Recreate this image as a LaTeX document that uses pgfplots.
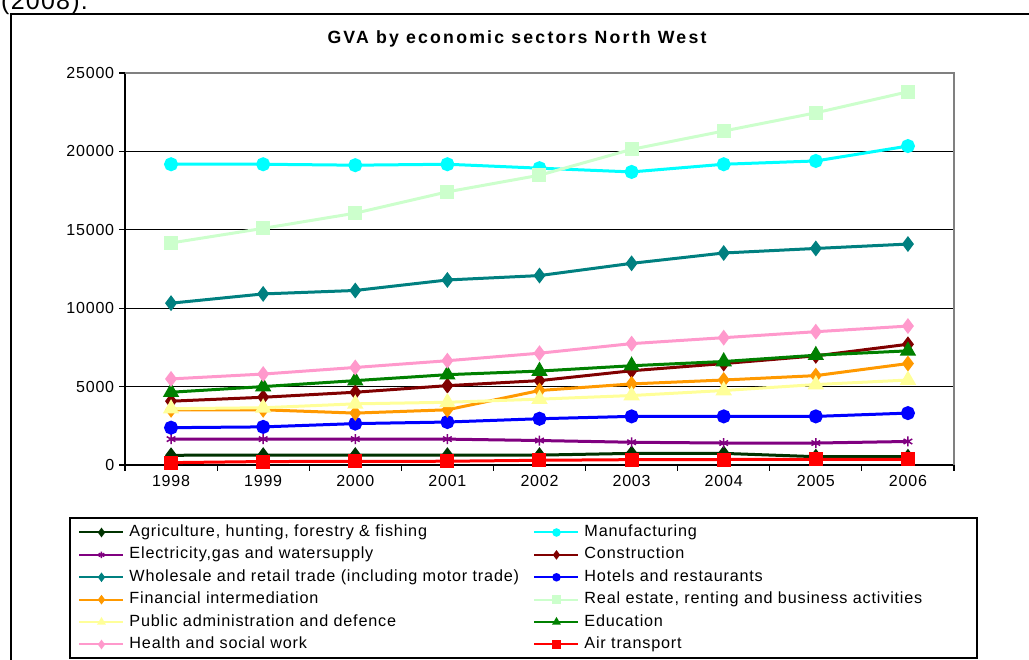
\documentclass[border=0pt]{standalone}
\usepackage{fontspec}
\setmainfont{Liberation Sans}[LetterSpace=5]
\newfontfamily\titlefont{Liberation Sans}[LetterSpace=12.5]
\usepackage{pgfplots}
\pgfplotsset{compat=1.18}

\definecolor{cAgr}{RGB}{0,51,0}
\definecolor{cMan}{RGB}{0,255,255}
\definecolor{cEle}{RGB}{128,0,128}
\definecolor{cCon}{RGB}{128,0,0}
\definecolor{cWho}{RGB}{0,128,128}
\definecolor{cHot}{RGB}{0,0,255}
\definecolor{cFin}{RGB}{255,153,0}
\definecolor{cRea}{RGB}{204,255,204}
\definecolor{cPub}{RGB}{255,255,153}
\definecolor{cEdu}{RGB}{0,128,0}
\definecolor{cHea}{RGB}{255,153,204}
\definecolor{cAir}{RGB}{255,0,0}

\newcommand{\colA}[1]{\makebox[399pt][l]{#1}}

\begin{document}
\begin{tikzpicture}[x=1pt,y=1pt]
\useasboundingbox (0,0) rectangle (1029,660);
\clip (0,0) rectangle (1029,660);
\node[anchor=base west, inner sep=0pt, font=\fontsize{25}{25}\selectfont] at (1,650) {(2008).};
\draw[line width=1.5pt] (11,-10) -- (11,646) -- (1040,646);
\draw[line width=1.5pt] (70,2) rectangle (977,142);
\node[font=\titlefont\bfseries\fontsize{17.7}{20}\selectfont] at (517,621) {GVA by economic sectors North West};
\begin{axis}[
    at={(125pt,195pt)}, anchor=south west,
    scale only axis, width=829pt, height=392pt,
    xmin=-0.5, xmax=8.5, ymin=0, ymax=25000,
    axis x line*=bottom, axis y line*=left,
    axis line style={black, line width=1.2pt},
    xtick={0,...,8},
    xticklabels={1998,1999,2000,2001,2002,2003,2004,2005,2006},
    minor xtick={-0.5,0.5,...,8.5},
    major x tick style={draw=none},
    minor x tick style={black, line width=1.2pt},
    ytick={0,5000,...,25000},
    scaled y ticks=false,
    ymajorgrids,
    major grid style={black, line width=1.2pt},
    y tick style={black, line width=1.2pt},
    tick align=outside,
    major tick length=6pt, minor tick length=6pt,
    tick label style={font=\fontsize{16}{16}\selectfont},
    /pgf/number format/assume math mode=true,
    /pgf/number format/1000 sep={},
    line width=3pt,
    legend columns=2,
    legend cell align=left,
    legend style={at={(-0.0579,-0.1505)}, anchor=north west, draw=none, fill=none,
        inner sep=0pt, font=\fontsize{16.2}{16}\selectfont,
        column sep=5pt, row sep=8.4pt,
        nodes={inner sep=0pt, text height=11pt, text depth=3pt}},
    legend image code/.code={
        \draw[mark repeat=2,mark phase=2,#1,line width=2pt,mark size=3.2pt]
        plot coordinates {(0pt,0pt) (22pt,0pt) (44pt,0pt)};},
    after end axis/.code={
        \draw[gray, line width=1.2pt] (rel axis cs:0,1) -- (rel axis cs:1,1) -- (rel axis cs:1,0);
    },
]
% Agriculture
\addplot[cAgr, mark=diamond*, mark size=5.5pt] coordinates {
 (0,620) (1,630) (2,630) (3,630) (4,630) (5,740) (6,740) (7,530) (8,530)};
\addlegendentry{\colA{Agriculture, hunting, forestry \& fishing}}
% Manufacturing
\addplot[cMan, mark=*, mark size=5.5pt] coordinates {
 (0,19180) (1,19180) (2,19120) (3,19180) (4,18930) (5,18690) (6,19180) (7,19390) (8,20340)};
\addlegendentry{Manufacturing}
% Electricity
\addplot[cEle, mark=asterisk, mark size=5pt, mark options={line width=1.5pt}] coordinates {
 (0,1650) (1,1650) (2,1650) (3,1650) (4,1560) (5,1450) (6,1400) (7,1400) (8,1500)};
\addlegendentry{\colA{Electricity,gas and watersupply}}
% Construction
\addplot[cCon, mark=diamond*, mark size=5.5pt] coordinates {
 (0,4070) (1,4320) (2,4640) (3,5060) (4,5380) (5,6010) (6,6470) (7,6960) (8,7700)};
\addlegendentry{Construction}
% Wholesale
\addplot[cWho, mark=diamond*, mark size=5.5pt] coordinates {
 (0,10320) (1,10910) (2,11130) (3,11800) (4,12080) (5,12860) (6,13520) (7,13810) (8,14090)};
\addlegendentry{\colA{Wholesale and retail trade (including motor trade)}}
% Hotels
\addplot[cHot, mark=*, mark size=5.5pt] coordinates {
 (0,2380) (1,2430) (2,2640) (3,2740) (4,2950) (5,3100) (6,3100) (7,3100) (8,3310)};
\addlegendentry{Hotels and restaurants}
% Financial
\addplot[cFin, mark=diamond*, mark size=5.5pt] coordinates {
 (0,3520) (1,3520) (2,3310) (3,3520) (4,4750) (5,5170) (6,5420) (7,5700) (8,6470)};
\addlegendentry{\colA{Financial intermediation}}
% Real estate
\addplot[cRea, mark=square*, mark size=5.5pt] coordinates {
 (0,14160) (1,15090) (2,16060) (3,17420) (4,18480) (5,20130) (6,21300) (7,22460) (8,23800)};
\addlegendentry{Real estate, renting and business activities}
% Public administration
\addplot[cPub, mark=triangle*, mark size=6.5pt] coordinates {
 (0,3590) (1,3650) (2,3900) (3,4000) (4,4200) (5,4430) (6,4750) (7,5130) (8,5420)};
\addlegendentry{\colA{Public administration and defence}}
% Education
\addplot[cEdu, mark=triangle*, mark size=6.5pt] coordinates {
 (0,4640) (1,5000) (2,5380) (3,5760) (4,5990) (5,6330) (6,6600) (7,7000) (8,7280)};
\addlegendentry{Education}
% Health
\addplot[cHea, mark=diamond*, mark size=5.5pt] coordinates {
 (0,5490) (1,5800) (2,6220) (3,6650) (4,7130) (5,7740) (6,8120) (7,8500) (8,8860)};
\addlegendentry{\colA{Health and social work}}
% Air transport
\addplot[cAir, mark=square*, mark size=5.5pt] coordinates {
 (0,150) (1,220) (2,230) (3,240) (4,300) (5,340) (6,350) (7,360) (8,360)};
\addlegendentry{Air transport}
\end{axis}
\end{tikzpicture}
\end{document}
